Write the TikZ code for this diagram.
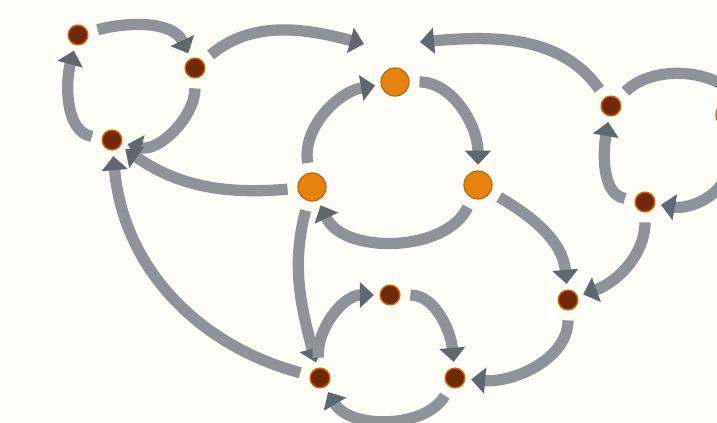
\documentclass[tikz,border=0pt]{standalone}
\usepackage{xcolor}
\usepackage{tikz}
\usetikzlibrary{arrows.meta,calc}
\definecolor{paper}{RGB}{253,252,247}
\definecolor{rust}{RGB}{112,40,10}
\definecolor{amber}{RGB}{232,130,14}
\definecolor{wire}{RGB}{143,146,152}
\definecolor{tipgray}{RGB}{95,103,113}

\begin{document}
\begin{tikzpicture}[x=0.025cm, y=-0.025cm,
  hub/.style={circle, inner sep=0pt, minimum size=20pt, fill=amber, draw=amber!80!black, line width=0.8pt},
  dot/.style={circle, inner sep=0pt, minimum size=14pt, fill=rust, draw=orange!70!rust, line width=1pt},
  arr/.style={draw=wire, line width=8pt, -{Triangle[width=18pt, length=10pt, color=tipgray]}, shorten <=7pt, shorten >=4pt}]
\fill[paper] (0,0) rectangle (717,422);
\useasboundingbox (0,0) rectangle (717,422);
\clip (0,0) rectangle (717,422);
% nodes
\node[dot] (nA) at (78,35) {};
\node[dot] (nB) at (195,68) {};
\node[dot] (nC) at (112,140) {};
\node[hub] (nD) at (395,82) {};
\node[hub] (nE) at (312,187) {};
\node[hub] (nF) at (478,185) {};
\node[dot] (nG) at (611,106) {};
\node[dot] (nH) at (645,202) {};
\node[hub] (nP) at (730,115) {};
\node[dot] (nI) at (568,300) {};
\node[dot] (nJ) at (390,295) {};
\node[dot] (nK) at (320,378) {};
\node[dot] (nL) at (455,378) {};
\coordinate (tl) at (364,44);
\coordinate (tr) at (420,42);
\coordinate (pin) at (745,112);
\coordinate (pout) at (730,165);
% top left ring
\draw[arr] (nA) to[out=15, in=115] (nB);
\draw[arr] (nB) to[out=-90, in=-15] (nC);
\draw[arr] (nC) to[out=170, in=-105] (nA);
\draw[arr, shorten >=0pt] (nB) to[out=40, in=165] (tl);
% centre ring
\draw[arr] (nE) to[out=100, in=190] (nD);
\draw[arr] (nD) to[out=0, in=90] (nF);
\draw[arr] (nF) to[out=-115, in=-65] (nE);
\draw[arr] (nE) to[out=185, in=-35] (nC);
\draw[arr] (nE) to[out=-105, in=105] (nK);
\draw[arr] (nF) to[out=-30, in=95] (nI);
% right ring
\draw[arr, shorten >=0pt] (nG) to[out=125, in=5] (tr);
\draw[arr, shorten >=0pt] (nG) to[out=45, in=120] (pin);
\draw[arr] (nH) to[out=170, in=-100] (nG);
\draw[arr, shorten <=0pt] (pout) to[out=-100, in=-10] (nH);
\draw[arr] (nH) to[out=-90, in=20] (nI);
% bottom ring
\draw[arr] (nI) to[out=-90, in=-5] (nL);
\draw[arr] (nJ) to[out=0, in=95] (nL);
\draw[arr] (nL) to[out=-120, in=-60] (nK);
\draw[arr] (nK) to[out=95, in=180] (nJ);
\draw[arr] (nK) to[out=165, in=-85] (nC);
\end{tikzpicture}
\end{document}
